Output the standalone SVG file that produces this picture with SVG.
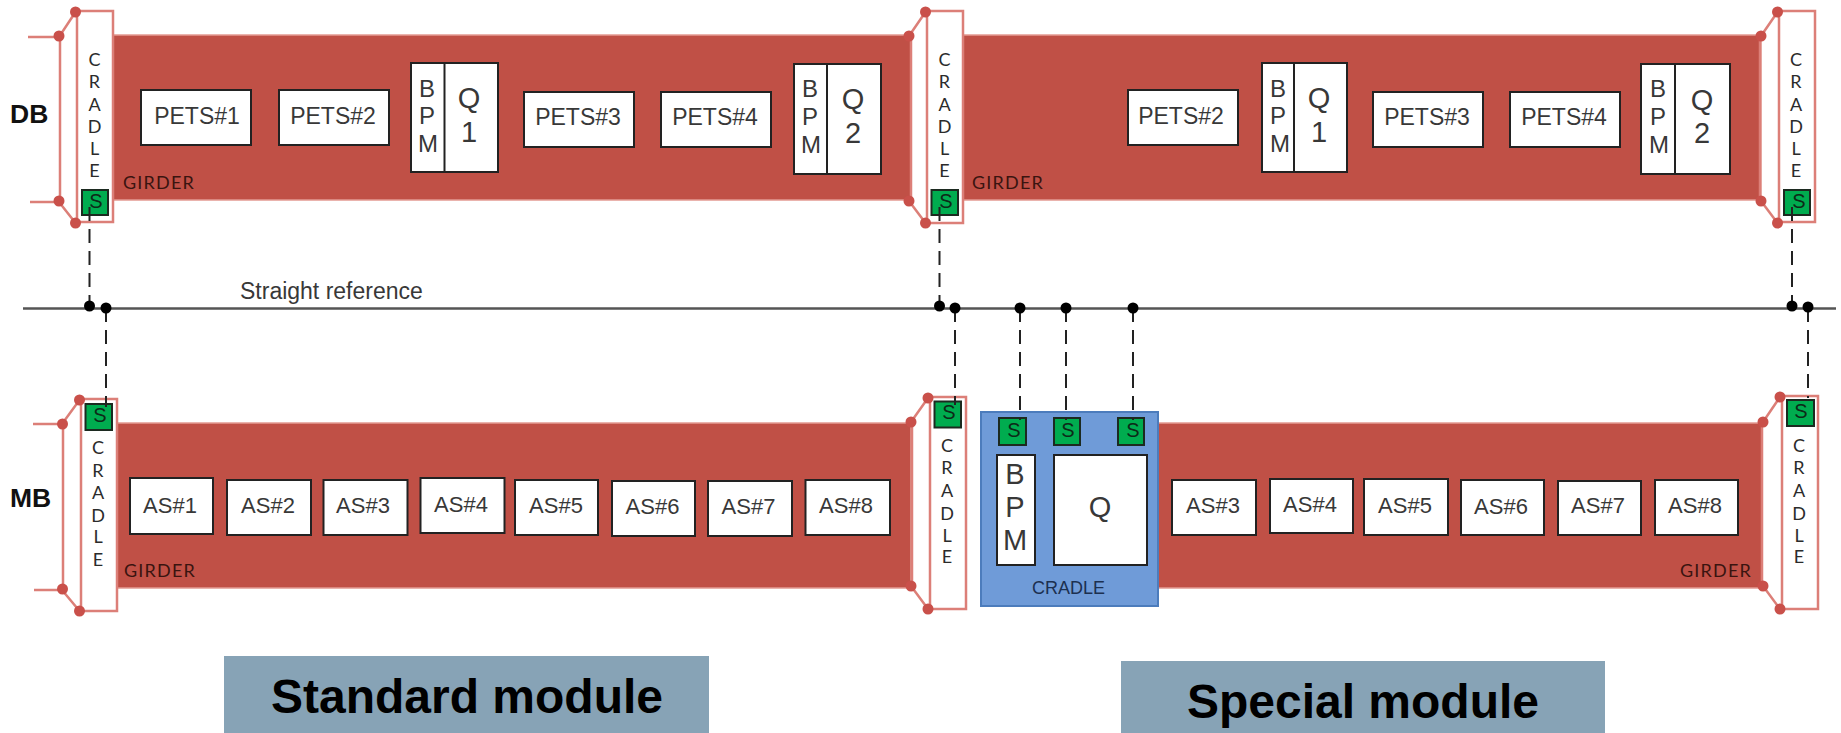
<svg xmlns="http://www.w3.org/2000/svg" width="1841" height="733" viewBox="0 0 1841 733">
<style>
text{font-family:"Liberation Sans",Arial,sans-serif;fill:#383838}
.g{fill:#c05046;stroke:#e39a93;stroke-width:1.5}
.c{fill:#fff;stroke:#dc7f78;stroke-width:2.5}
.l{fill:none;stroke:#dc7f78;stroke-width:2.5}
.p{fill:#c9504a}
.s{fill:#00ac4f;stroke:#1c2a20;stroke-width:2}
.b{fill:#fff;stroke:#222;stroke-width:2}
.t{font-size:22px;text-anchor:middle}
.pt{font-size:23px;text-anchor:middle}
.m{font-size:24px;text-anchor:middle}
.q{font-size:29px;text-anchor:middle}
.st{font-size:20px;text-anchor:middle;fill:#0d2a18}
.h{font-family:"Lato","Open Sans",sans-serif;font-size:18px;text-anchor:middle;fill:#2b2b2b}
.gt{font-family:"Lato","Open Sans",sans-serif;font-size:18px;letter-spacing:1.2px;fill:#3a1410}
.hd{font-size:26.500px;font-weight:bold;fill:#111}
.big{font-size:48px;font-weight:bold;fill:#000;text-anchor:middle}
.ref{stroke:#555;stroke-width:2.500;fill:none}
.d{stroke:#222;stroke-width:2;stroke-dasharray:14 8;fill:none}
.dot{fill:#000}
</style>
<rect width="1841" height="733" fill="#fff"/>

<g id="girder-db-1"><rect class="g" x="113" y="35" width="798" height="165"/></g>
<g id="girder-db-2"><rect class="g" x="963" y="35" width="798" height="165"/></g>
<g id="girder-mb-1"><rect class="g" x="117" y="423" width="794" height="165"/></g>
<g id="girder-mb-2"><rect class="g" x="1158" y="423" width="604" height="165"/></g>

<g id="label-db"><text class="hd" x="10" y="123">DB</text></g>
<g id="label-mb"><text class="hd" x="10" y="507">MB</text></g>
<g id="girder-label-1"><text class="gt" x="123" y="189">GIRDER</text></g>
<g id="girder-label-2"><text class="gt" x="972" y="189">GIRDER</text></g>
<g id="girder-label-3"><text class="gt" x="124" y="577">GIRDER</text></g>
<g id="girder-label-4"><text class="gt" x="1680" y="577">GIRDER</text></g>

<g id="cradle-db-1">
<path class="l" d="M28 37H59L75.500 12M30 202H59L75.500 223M60 36V201"/>
<rect class="c" x="77" y="11" width="36" height="211"/>
<circle class="p" cx="75.500" cy="12" r="5.500"/><circle class="p" cx="59" cy="36" r="5.500"/><circle class="p" cx="59" cy="201" r="5.500"/><circle class="p" cx="75.500" cy="223" r="5.500"/>
<text class="h"><tspan x="94.500" y="66">C</tspan><tspan x="94.500" y="88">R</tspan><tspan x="94.500" y="111">A</tspan><tspan x="94.500" y="133">D</tspan><tspan x="94.500" y="155">L</tspan><tspan x="94.500" y="177">E</tspan></text>
<rect class="s" x="82" y="190" width="26" height="25"/><text class="st" x="96" y="208">S</text>
</g>
<g id="cradle-db-2">
<path class="l" d="M909 36L925.500 12M909 201L925.500 223M911 36V201"/>
<rect class="c" x="927" y="11" width="36" height="212"/>
<circle class="p" cx="925.500" cy="12" r="5.500"/><circle class="p" cx="909" cy="36" r="5.500"/><circle class="p" cx="909" cy="201" r="5.500"/><circle class="p" cx="925.500" cy="223" r="5.500"/>
<text class="h"><tspan x="944.500" y="66">C</tspan><tspan x="944.500" y="88">R</tspan><tspan x="944.500" y="111">A</tspan><tspan x="944.500" y="133">D</tspan><tspan x="944.500" y="155">L</tspan><tspan x="944.500" y="177">E</tspan></text>
<rect class="s" x="931.500" y="190" width="26.500" height="25"/><text class="st" x="946" y="208">S</text>
</g>
<g id="cradle-db-3">
<path class="l" d="M1761 36L1777.500 12M1761 201L1777.500 223M1760 36V201"/>
<rect class="c" x="1779" y="11" width="36" height="211"/>
<circle class="p" cx="1777.500" cy="12" r="5.500"/><circle class="p" cx="1761" cy="36" r="5.500"/><circle class="p" cx="1761" cy="201" r="5.500"/><circle class="p" cx="1777.500" cy="223" r="5.500"/>
<text class="h"><tspan x="1796" y="66">C</tspan><tspan x="1796" y="88">R</tspan><tspan x="1796" y="111">A</tspan><tspan x="1796" y="133">D</tspan><tspan x="1796" y="155">L</tspan><tspan x="1796" y="177">E</tspan></text>
<rect class="s" x="1784" y="190" width="26" height="25"/><text class="st" x="1799" y="208">S</text>
</g>
<g id="cradle-mb-1">
<path class="l" d="M33 424H62L79.500 400M34 590H62L79.500 611M63 424V589"/>
<rect class="c" x="81" y="399" width="36" height="212"/>
<circle class="p" cx="79.500" cy="400" r="5.500"/><circle class="p" cx="62.500" cy="424" r="5.500"/><circle class="p" cx="62.500" cy="589" r="5.500"/><circle class="p" cx="79.500" cy="611" r="5.500"/>
<text class="h"><tspan x="98" y="454">C</tspan><tspan x="98" y="477">R</tspan><tspan x="98" y="499">A</tspan><tspan x="98" y="522">D</tspan><tspan x="98" y="543">L</tspan><tspan x="98" y="566">E</tspan></text>
<rect class="s" x="85.500" y="404" width="26.500" height="26"/><text class="st" x="100" y="422">S</text>
</g>
<g id="cradle-mb-2">
<path class="l" d="M911 422L928 398M911 586L928 609M912 422V586"/>
<rect class="c" x="930" y="397" width="36" height="212"/>
<circle class="p" cx="928" cy="398" r="5.500"/><circle class="p" cx="911" cy="422" r="5.500"/><circle class="p" cx="911" cy="586" r="5.500"/><circle class="p" cx="928" cy="609" r="5.500"/>
<text class="h"><tspan x="947" y="452">C</tspan><tspan x="947" y="474">R</tspan><tspan x="947" y="497">A</tspan><tspan x="947" y="520">D</tspan><tspan x="947" y="542">L</tspan><tspan x="947" y="563">E</tspan></text>
<rect class="s" x="934.500" y="401.500" width="26.500" height="26"/><text class="st" x="949" y="419">S</text>
</g>
<g id="cradle-mb-3">
<path class="l" d="M1763 422L1780 397M1763 586L1780 609M1762 422V586"/>
<rect class="c" x="1782" y="396" width="36" height="213"/>
<circle class="p" cx="1780" cy="397" r="5.500"/><circle class="p" cx="1763" cy="422" r="5.500"/><circle class="p" cx="1763" cy="586" r="5.500"/><circle class="p" cx="1780" cy="609" r="5.500"/>
<text class="h"><tspan x="1799" y="452">C</tspan><tspan x="1799" y="474">R</tspan><tspan x="1799" y="497">A</tspan><tspan x="1799" y="520">D</tspan><tspan x="1799" y="542">L</tspan><tspan x="1799" y="563">E</tspan></text>
<rect class="s" x="1787" y="400" width="27" height="26"/><text class="st" x="1801" y="418">S</text>
</g>

<g id="special-cradle">
<rect x="981" y="412" width="177" height="194" fill="#6f9bd8" stroke="#4c7cbc" stroke-width="2"/>
<rect class="s" x="999" y="418" width="27" height="27"/><text class="st" x="1014" y="437">S</text>
<rect class="s" x="1054" y="418" width="26" height="27"/><text class="st" x="1068" y="437">S</text>
<rect class="s" x="1118" y="418" width="26" height="27"/><text class="st" x="1133" y="437">S</text>
<rect class="b" x="997" y="455" width="38" height="110"/>
<text class="q"><tspan x="1015" y="484">B</tspan><tspan x="1015" y="517">P</tspan><tspan x="1015" y="550">M</tspan></text>
<rect class="b" x="1054" y="455" width="93" height="110"/>
<text class="q" x="1100" y="517">Q</text>
<text x="1068.500" y="594" font-size="18" text-anchor="middle" style="fill:#1c3050">CRADLE</text>
</g>

<g id="pets1-a"><rect class="b" x="141" y="90" width="110" height="55"/><text class="pt" x="197" y="124">PETS#1</text></g>
<g id="pets2-a"><rect class="b" x="279" y="90" width="110" height="55"/><text class="pt" x="333" y="124">PETS#2</text></g>
<g id="bpmq1-a"><rect class="b" x="411" y="63" width="87" height="109"/><path class="b" d="M444.500 63V172"/>
<text class="m"><tspan x="427" y="97">B</tspan><tspan x="427" y="124">P</tspan><tspan x="428" y="152">M</tspan></text>
<text class="q"><tspan x="469" y="108">Q</tspan><tspan x="469" y="142">1</tspan></text></g>
<g id="pets3-a"><rect class="b" x="524" y="92" width="110" height="55"/><text class="pt" x="578" y="125">PETS#3</text></g>
<g id="pets4-a"><rect class="b" x="661" y="92" width="110" height="55"/><text class="pt" x="715" y="125">PETS#4</text></g>
<g id="bpmq2-a"><rect class="b" x="794" y="64" width="87" height="110"/><path class="b" d="M827 64V174"/>
<text class="m"><tspan x="810" y="97">B</tspan><tspan x="810" y="125">P</tspan><tspan x="811" y="153">M</tspan></text>
<text class="q"><tspan x="853" y="109">Q</tspan><tspan x="853" y="143">2</tspan></text></g>

<g id="pets2-b"><rect class="b" x="1128" y="90" width="110" height="55"/><text class="pt" x="1181" y="124">PETS#2</text></g>
<g id="bpmq1-b"><rect class="b" x="1262" y="63" width="85" height="109"/><path class="b" d="M1294 63V172"/>
<text class="m"><tspan x="1278" y="97">B</tspan><tspan x="1278" y="124">P</tspan><tspan x="1280" y="152">M</tspan></text>
<text class="q"><tspan x="1319" y="108">Q</tspan><tspan x="1319" y="142">1</tspan></text></g>
<g id="pets3-b"><rect class="b" x="1373" y="92" width="110" height="55"/><text class="pt" x="1427" y="125">PETS#3</text></g>
<g id="pets4-b"><rect class="b" x="1510" y="92" width="110" height="55"/><text class="pt" x="1564" y="125">PETS#4</text></g>
<g id="bpmq2-b"><rect class="b" x="1641" y="64" width="89" height="110"/><path class="b" d="M1675 64V174"/>
<text class="m"><tspan x="1658" y="97">B</tspan><tspan x="1658" y="125">P</tspan><tspan x="1659" y="153">M</tspan></text>
<text class="q"><tspan x="1702" y="110">Q</tspan><tspan x="1702" y="143">2</tspan></text></g>

<g id="as1-a"><rect class="b" x="130" y="478" width="83" height="56"/><text class="t" x="170" y="513">AS#1</text></g>
<g id="as2-a"><rect class="b" x="227" y="480" width="84" height="55"/><text class="t" x="268" y="513">AS#2</text></g>
<g id="as3-a"><rect class="b" x="323.500" y="480" width="84" height="55"/><text class="t" x="363" y="513">AS#3</text></g>
<g id="as4-a"><rect class="b" x="420.500" y="478" width="84" height="55"/><text class="t" x="461" y="512">AS#4</text></g>
<g id="as5-a"><rect class="b" x="515" y="480" width="83" height="55"/><text class="t" x="556" y="513">AS#5</text></g>
<g id="as6-a"><rect class="b" x="612" y="481" width="83" height="55"/><text class="t" x="652.500" y="514">AS#6</text></g>
<g id="as7-a"><rect class="b" x="708" y="481" width="84" height="55"/><text class="t" x="748.500" y="514">AS#7</text></g>
<g id="as8-a"><rect class="b" x="805.500" y="480" width="84.500" height="55"/><text class="t" x="846" y="513">AS#8</text></g>

<g id="as3-b"><rect class="b" x="1172" y="480" width="84" height="55"/><text class="t" x="1213" y="513">AS#3</text></g>
<g id="as4-b"><rect class="b" x="1270" y="479" width="83" height="54"/><text class="t" x="1310" y="512">AS#4</text></g>
<g id="as5-b"><rect class="b" x="1364" y="479" width="84" height="56"/><text class="t" x="1405" y="513">AS#5</text></g>
<g id="as6-b"><rect class="b" x="1461" y="480" width="83" height="55"/><text class="t" x="1501" y="514">AS#6</text></g>
<g id="as7-b"><rect class="b" x="1558" y="481" width="83" height="54"/><text class="t" x="1598" y="513">AS#7</text></g>
<g id="as8-b"><rect class="b" x="1655" y="480" width="83" height="55"/><text class="t" x="1695" y="513">AS#8</text></g>

<g id="connectors">
<path class="ref" d="M23 308.500H1836"/>
<path class="d" d="M89.500 207V306M939.500 207V306M1792 207V306"/>
<path class="d" d="M106 308V407M955 308V405M1020 308V420M1066 308V420M1133 308V420M1808 308V398"/>
<circle class="dot" cx="89.500" cy="306" r="5.500"/><circle class="dot" cx="106" cy="308" r="5.500"/>
<circle class="dot" cx="939.500" cy="306" r="5.500"/><circle class="dot" cx="955" cy="308" r="5.500"/>
<circle class="dot" cx="1020" cy="308" r="5.500"/><circle class="dot" cx="1066" cy="308" r="5.500"/><circle class="dot" cx="1133" cy="308" r="5.500"/>
<circle class="dot" cx="1792" cy="306" r="5.500"/><circle class="dot" cx="1808" cy="307" r="5.500"/>
</g>
<g id="label-reference"><text x="240" y="299" font-size="23">Straight reference</text></g>

<g id="standard-module"><rect x="224" y="656" width="485" height="77" fill="#87a3b6"/><text class="big" x="467" y="713">Standard module</text></g>
<g id="special-module"><rect x="1121" y="661" width="484" height="72" fill="#87a3b6"/><text class="big" x="1363" y="718">Special module</text></g>
</svg>
